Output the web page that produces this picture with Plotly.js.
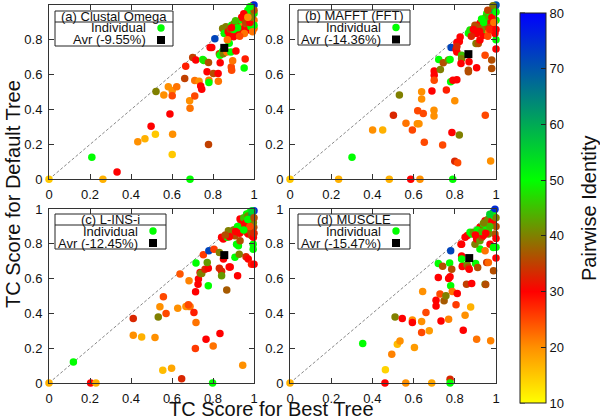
<!DOCTYPE html>
<html><head><meta charset="utf-8">
<script src="https://cdn.plot.ly/plotly-3.0.1.min.js"></script>
<style>html,body{margin:0;padding:0;background:#fff}#chart{width:600px;height:420px}</style>
</head><body><div id="chart"></div>
<script>
// ---- Data: x = TC score for best tree, y = TC score for default tree, c = pairwise identity ----
const panelTitles = ["(a) Clustal Omega", "(b) MAFFT (FFT)", "(c) L-INS-i", "(d) MUSCLE"];
const avrLabels = ["Avr (-9.55%)", "Avr (-14.36%)", "Avr (-12.45%)", "Avr (-15.47%)"];

const aX = [0,0.209,0.263,0.332,0.433,0.468,0.498,0.519,0.522,0.56,0.582,0.59,0.601,0.601,0.603,0.601,0.623,0.667,0.662,0.688,0.686,0.688,0.701,0.716,0.711,0.732,0.711,0.74,0.745,0.778,0.75,0.755,0.778,0.771,0.78,0.78,0.802,0.825,0.826,0.809,0.786,0.794,0.831,0.835,0.834,0.847,0.85,0.868,0.879,0.887,0.912,0.889,0.891,0.952,0.957,0.896,
  0.847,0.863,0.855,0.874,0.884,0.891,0.904,0.92,0.933,0.936,0.944,0.953,0.961,0.969,0.972,0.985,0.993,1.0,1.0,1.0,0.996,1.0,0.969,0.936,0.912,0.9,0.953,0.985,0.993,
  0.92,0.95,0.98,0.99,1.0,0.97,0.94,0.96,0.88,0.87,0.93,0.98,0.99,0.9,0.95,0.91,0.97,1.0,0.98,0.89];
const aY = [0,0.126,0,0.042,0.216,0.232,0.305,0.259,0.504,0.483,0.531,0.374,0.51,0.48,0.259,0.143,0.531,0.649,0.579,0,0.45,0.407,0.699,0.684,0.567,0.563,0.478,0.535,0.516,0.2,0.688,0.682,0.67,0.617,0.568,0.555,0.607,0.607,0.563,0.806,0.756,0.756,0.72,0.668,0.711,0.735,0.72,0.731,0.78,0.731,0.736,0.645,0.626,0.638,0.69,0.68,
  0.865,0.875,0.837,0.846,0.859,0.884,0.894,0.898,0.89,0.913,0.875,0.865,0.894,0.922,0.951,0.942,0.97,0.913,0.865,0.951,0.999,0.884,0.856,0.846,0.837,0.818,0.837,0.875,0.846,
  0.87,0.92,0.96,0.98,1.0,0.97,0.93,0.9,0.82,0.8,0.82,0.9,0.93,0.86,0.95,0.91,0.93,0.97,0.99,0.87];
const aC = [15,50,17,30,20,17,30,15,40,20,20,30,20,25,20,15,22,28,35,50,20,22,35,30,22,20,25,30,30,35,50,48,36,30,22,50,36,30,22,72,30,30,35,30,50,50,40,22,50,50,30,25,25,50,28,22,
  40,40,50,30,36,50,40,30,30,50,22,30,40,36,50,30,50,22,22,50,30,50,30,30,30,30,22,50,22,
  50,40,45,60,75,50,30,35,30,22,25,30,40,50,30,45,20,36,50,30];

const bX = [0,0.236,0.301,0.401,0.45,0.482,0.586,0.631,0.79,0.531,0.502,0.563,0.594,0.618,0.626,0.62,0.647,0.639,0.639,0.652,0.689,0.699,0.699,0.7,0.7,0.7,0.741,0.759,0.73,0.722,0.744,0.769,0.777,0.78,0.791,0.81,0.786,0.8,0.8,0.814,0.822,0.782,0.806,0.81,0.833,0.833,0.83,0.869,0.866,0.866,0.906,0.947,0.948,0.974,0.979,0.979,1.0,1.0,
  0.826,0.822,0.81,0.81,0.866,0.882,0.874,0.898,0.906,0.903,0.914,0.922,0.939,0.955,0.963,0.971,0.979,0.987,0.995,0.987,0.995,1.0,0.955,0.922,0.906,0.939,0.955,0.963,
  0.93,0.95,0.97,0.99,1.0,0.98,0.96,0.99,0.94,0.92,0.88,0.97,1.0,0.985,0.96,0.93,0.89,1.0];
const bY = [0,0,0.126,0.283,0.283,0,0,0,0,0.483,0.368,0.321,0.283,0.318,0.318,0.393,0.378,0.502,0.46,0.212,0.506,0.396,0.363,0.622,0.597,0.568,0.197,0.512,0.63,0.687,0.668,0.684,0.687,0.559,0.568,0.571,0.269,0.45,0.103,0.095,0.254,0.756,0.745,0.731,0.711,0.692,0.664,0.675,0.626,0.617,0.64,0.711,0.368,0.105,0.636,0.684,0.8,0.748,
  0.817,0.79,0.785,0.762,0.838,0.842,0.856,0.884,0.837,0.779,0.779,0.799,0.827,0.856,0.846,0.894,0.913,0.951,0.989,0.875,0.837,0.913,0.951,0.894,0.875,0.875,0.884,0.913,
  0.86,0.93,0.96,0.97,1.0,0.93,0.82,0.9,0.9,0.85,0.82,0.86,0.86,0.995,0.97,0.92,0.86,0.96];
const bC = [15,17,50,20,17,17,30,20,50,40,33,22,25,20,20,25,25,20,20,25,30,20,20,30,30,25,25,28,40,50,36,40,50,50,30,30,30,20,33,25,40,72,30,30,45,40,30,30,36,36,30,25,25,20,36,36,50,30,
  30,30,30,33,50,50,48,36,30,40,36,30,30,50,22,50,50,50,75,30,30,50,50,30,36,33,36,30,
  40,45,50,60,70,30,25,22,50,30,33,28,30,40,35,50,30,50];

const cX = [0,0.119,0.203,0.229,0.411,0.411,0.452,0.517,0.533,0.541,0.558,0.555,0.571,0.598,0.628,0.639,0.647,0.668,0.68,0.688,0.683,0.68,0.707,0.717,0.714,0.715,0.717,0.727,0.729,0.737,0.74,0.745,0.753,0.766,0.761,0.777,0.772,0.777,0.801,0.78,0.805,0.831,0.831,0.842,0.842,0.834,0.851,0.867,0.879,0.884,0.907,0.928,0.92,0.945,0.798,0.961,0.972,0.988,1.0,0.996,0.996,
  0.842,0.85,0.858,0.87,0.875,0.883,0.9,0.907,0.915,0.924,0.932,0.94,0.948,0.956,0.964,0.972,0.98,0.989,0.997,0.999,1.0,0.98,0.964,0.948,0.989,0.997,0.932,
  0.9,0.92,0.95,0.97,0.99,0.96,0.98,1.0,0.93,0.88,0.86,0.95,0.99,0.97,0.91,1.0];
const cY = [0,0.121,0,0,0.371,0.275,0.265,0.261,0.38,0.438,0.495,0.073,0.4,0.085,0.43,0.626,0.025,0.44,0.44,0.44,0.587,0.45,0.405,0.347,0.198,0.524,0.689,0.568,0.597,0.635,0.63,0.63,0.737,0.252,0.654,0.66,0.693,0.559,0.213,0.76,0.769,0.75,0.659,0.642,0.617,0.284,0.712,0.534,0.666,0.666,0.722,0.74,0.616,0.102,0,0.725,0.712,0.683,0.683,0.798,0.769,
  0.837,0.827,0.837,0.837,0.875,0.866,0.856,0.846,0.798,0.789,0.818,0.914,0.895,0.933,0.866,0.856,0.875,0.846,0.837,0.895,0.99,0.981,0.971,0.942,0.952,0.923,0.942,
  0.88,0.9,0.95,0.96,0.97,0.92,0.9,0.86,0.86,0.84,0.85,0.88,0.99,0.94,0.87,0.95];
const cC = [17,50,30,17,33,20,17,20,40,20,25,16,25,18,20,24,33,20,20,22,21,25,28,22,26,30,50,30,30,30,40,40,26,30,33,30,42,50,22,72,26,40,33,33,42,30,30,37,30,30,50,40,30,20,50,33,30,28,30,50,50,
  30,30,30,50,40,40,36,36,50,50,36,30,30,30,36,30,36,36,30,36,75,50,50,30,30,40,30,
  40,50,45,40,60,30,25,33,30,30,36,50,55,50,30,36];

const dX = [0,0.353,0.463,0.461,0.494,0.521,0.534,0.51,0.545,0.562,0.594,0.594,0.604,0.639,0.639,0.644,0.66,0.676,0.688,0.709,0.709,0.72,0.72,0.728,0.733,0.741,0.748,0.757,0.77,0.777,0.77,0.775,0.78,0.785,0.788,0.777,0.777,0.78,0.806,0.812,0.83,0.833,0.833,0.838,0.836,0.841,0.85,0.857,0.86,0.865,0.87,0.882,0.877,0.901,0.911,0.906,0.922,0.947,0.95,0.947,0.955,0.963,0.974,0.988,1.0,1.0,
  0.833,0.85,0.861,0.874,0.882,0.89,0.898,0.906,0.922,0.931,0.922,0.939,0.947,0.955,0.963,0.971,0.979,0.987,0.995,0.987,0.995,0.971,0.987,0.963,0.939,
  0.91,0.93,0.96,0.98,1.0,0.95,0.99,0.97,1.0,0.9,0.94,0.97,1.0];
const dY = [0,0.227,0.076,0,0.165,0.223,0.242,0.38,0.37,0,0.362,0.348,0.204,0.353,0.29,0.526,0.405,0.3,0,0.476,0.443,0.607,0.687,0.511,0.357,0.671,0.473,0.501,0.6,0.61,0.366,0.689,0.559,0.654,0.526,0.021,0,0.76,0.45,0.514,0.798,0.73,0.712,0.674,0.67,0.303,0.389,0.568,0.68,0.665,0.654,0.572,0.437,0.687,0.664,0.251,0.77,0.568,0.566,0.76,0.693,0.693,0.243,0.645,0.718,0.78,
  0.798,0.837,0.847,0.866,0.856,0.866,0.798,0.827,0.818,0.837,0.895,0.914,0.933,0.895,0.875,0.952,0.962,0.981,0.999,0.914,0.856,0.798,0.779,0.856,0.847,
  0.88,0.87,0.94,0.93,0.9,0.86,0.96,0.9,0.95,0.85,0.92,0.97,0.83];
const dC = [17,50,14,30,21,16,20,40,30,20,20,30,19,20,25,20,25,19,18,30,30,30,50,25,30,36,37,40,30,30,21,50,50,36,22,33,50,72,26,30,27,30,50,50,30,30,20,35,42,36,30,30,17,50,36,22,50,40,36,22,34,23,21,36,30,50,
  30,30,30,50,50,42,40,30,42,36,30,50,30,50,50,50,40,62,75,30,36,30,50,40,30,
  50,45,40,30,36,30,50,45,40,30,40,55,30];

const avgX = [0.855, 0.866, 0.855, 0.870];
const avgY = [0.754, 0.718, 0.735, 0.718];

const identityTicks = [10,20,30,40,50,60,70,80];

// ---- Layout geometry ----
const L = 49, R = 496, T = 5, B = 383, W = 600, H = 420;
const PW = R - L, PH = B - T;
const px = v => (v - L) / PW;
const py = v => (B - v) / PH;

const colorscale = [[0,'#ffff00'],[0.1429,'#ff9000'],[0.2857,'#ff0000'],[0.4286,'#808000'],[0.5714,'#00ff00'],[1,'#0000ff']];
const font = 'Liberation Sans, Arial, sans-serif';

const sets = [[aX,aY,aC],[bX,bY,bC],[cX,cY,cC],[dX,dY,dC]];
const axn = ['', '2', '3', '4'];
const traces = [];
sets.forEach((s, i) => {
  traces.push({
    type: 'scatter', mode: 'markers', x: s[0], y: s[1],
    xaxis: 'x' + axn[i], yaxis: 'y' + axn[i], cliponaxis: false, hoverinfo: 'skip',
    marker: {size: 7.5, color: s[2], cmin: 10, cmax: 80, colorscale: colorscale,
      line: {width: 0}, showscale: i === 0,
      colorbar: i === 0 ? {
        x: px(520), xanchor: 'left', y: py(208), yanchor: 'middle',
        lenmode: 'pixels', len: 390,
        thickness: 26, thicknessmode: 'pixels', xpad: 0, ypad: 0,
        outlinewidth: 1, outlinecolor: '#222', ticks: 'inside', ticklen: 5,
        tickcolor: '#222', tickmode: 'array', tickvals: identityTicks,
        tickfont: {family: font, size: 13, color: '#111'}, ticklabelstandoff: 4
      } : undefined}
  });
});
sets.forEach((s, i) => {
  traces.push({
    type: 'scatter', mode: 'markers', x: [avgX[i]], y: [avgY[i]],
    xaxis: 'x' + axn[i], yaxis: 'y' + axn[i], hoverinfo: 'skip', cliponaxis: false,
    marker: {size: 8, symbol: 'square', color: '#000', line: {width: 0}}
  });
});

const xdomL = [0, px(254)], xdomR = [px(290), 1];
const ydomT = [py(179.3), 1], ydomB = [0, py(209)];
function ax(dom, anchor, isX) {
  return {domain: dom, anchor: anchor, range: [0, 1], showgrid: false, zeroline: false,
    showline: true, linecolor: '#333', linewidth: 1, mirror: 'ticks', ticks: 'inside',
    ticklen: 5, tickcolor: '#333', dtick: 0.2, tick0: 0, ticklabelstandoff: 3,
    tickfont: {family: font, size: 13, color: '#111'}, fixedrange: true};
}
const layout = {
  width: W, height: H, showlegend: false, paper_bgcolor: '#fff', plot_bgcolor: '#fff',
  margin: {l: L, r: W - R, t: T, b: H - B},
  xaxis: ax(xdomL, 'y', true), yaxis: ax(ydomT, 'x'),
  xaxis2: ax(xdomR, 'y2', true), yaxis2: ax(ydomT, 'x2'),
  xaxis3: ax(xdomL, 'y3', true), yaxis3: ax(ydomB, 'x3'),
  xaxis4: ax(xdomR, 'y4', true), yaxis4: ax(ydomB, 'x4'),
  shapes: [], annotations: []
};

// diagonal reference lines
axn.forEach(n => layout.shapes.push({type: 'line', xref: 'x' + n, yref: 'y' + n, x0: 0, y0: 0, x1: 1, y1: 1,
  layer: 'below', line: {color: '#888', width: 1, dash: '3px,2px'}}));

// colour-box ticks on the left edge too (gnuplot style)
identityTicks.forEach(v => {
  const yy = 403 - (v - 10) / 70 * 390;
  layout.shapes.push({type: 'line', xref: 'paper', yref: 'paper', x0: px(520), x1: px(525), y0: py(yy), y1: py(yy),
    line: {color: '#222', width: 1}, layer: 'above'});
});

// key boxes (pixel geometry)
const keys = [
  {l: 55, r: 173, t: 11, d: 22, b: 46, tr: 148, m: 161},
  {l: 298, r: 410, t: 10, d: 22, b: 45, tr: 383, m: 396},
  {l: 55, r: 166, t: 214, d: 225, b: 249, tr: 140, m: 153},
  {l: 298, r: 410, t: 214, d: 225, b: 249, tr: 383, m: 396}
];
keys.forEach((k, i) => {
  layout.shapes.push({type: 'rect', xref: 'paper', yref: 'paper', x0: px(k.l), x1: px(k.r), y0: py(k.b), y1: py(k.t),
    line: {color: '#222', width: 1}, fillcolor: '#fff', layer: 'above'});
  layout.shapes.push({type: 'line', xref: 'paper', yref: 'paper', x0: px(k.l), x1: px(k.r), y0: py(k.d), y1: py(k.d),
    line: {color: '#222', width: 1}, layer: 'above'});
  const r1 = (k.d + k.b) / 2 - 6, r2 = (k.d + k.b) / 2 + 6;
  layout.annotations.push({xref: 'paper', yref: 'paper', x: px((k.l + k.r) / 2), y: py((k.t + k.d) / 2),
    text: panelTitles[i], showarrow: false, font: {family: font, size: 13, color: '#111'}, xanchor: 'center', yanchor: 'middle'});
  layout.annotations.push({xref: 'paper', yref: 'paper', x: px(k.tr), y: py(r1), text: 'Individual',
    showarrow: false, font: {family: font, size: 13, color: '#111'}, xanchor: 'right', yanchor: 'middle'});
  layout.annotations.push({xref: 'paper', yref: 'paper', x: px(k.tr), y: py(r2), text: avrLabels[i],
    showarrow: false, font: {family: font, size: 13, color: '#111'}, xanchor: 'right', yanchor: 'middle'});
  layout.shapes.push({type: 'circle', xref: 'paper', yref: 'paper', xsizemode: 'pixel', ysizemode: 'pixel',
    xanchor: px(k.m), yanchor: py(r1), x0: -3.7, x1: 3.7, y0: -3.7, y1: 3.7,
    fillcolor: '#00ff00', line: {width: 0}, layer: 'above'});
  layout.shapes.push({type: 'rect', xref: 'paper', yref: 'paper', xsizemode: 'pixel', ysizemode: 'pixel',
    xanchor: px(k.m), yanchor: py(r2), x0: -4, x1: 4, y0: -4, y1: 4,
    fillcolor: '#000', line: {width: 0}, layer: 'above'});
});

// axis titles
layout.annotations.push({xref: 'paper', yref: 'paper', x: px(13), y: py(194), text: 'TC Score for Default Tree',
  textangle: -90, showarrow: false, font: {family: font, size: 20, color: '#111'}, xanchor: 'center', yanchor: 'middle'});
layout.annotations.push({xref: 'paper', yref: 'paper', x: px(271.5), y: py(408.5), text: 'TC Score for Best Tree',
  showarrow: false, font: {family: font, size: 20, color: '#111'}, xanchor: 'center', yanchor: 'middle'});
layout.annotations.push({xref: 'paper', yref: 'paper', x: px(589), y: py(208), text: 'Pairwise Identity',
  textangle: -90, showarrow: false, font: {family: font, size: 20, color: '#111'}, xanchor: 'center', yanchor: 'middle'});

Plotly.newPlot('chart', traces, layout, {displayModeBar: false, staticPlot: true});
</script></body></html>
